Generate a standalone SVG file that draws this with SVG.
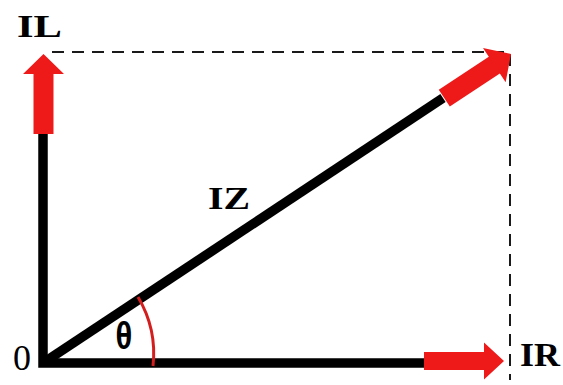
<svg xmlns="http://www.w3.org/2000/svg" width="563" height="385" viewBox="0 0 563 385">
<style>
.axis{stroke:#000;stroke-width:9.5;fill:none;stroke-linejoin:miter}
.dash{stroke:#1a1a1a;stroke-width:2;stroke-dasharray:12 8;fill:none}
.arr{fill:#ee1a1a}
.lbl{font-family:"Liberation Serif","Times New Roman",serif;font-weight:bold;fill:#000}
</style>
<defs>
<path id="arrow" d="M0 0 L-20 -20.5 L-20 -10 L-80 -10 L-80 10 L-20 10 L-20 20.5 Z"/>
</defs>
<rect width="563" height="385" fill="#fff"/>
<g id="guides">
<path class="dash" d="M52 52 H510 V380"/>
</g>
<g id="connectors">
<path class="axis" d="M43 132 V363 H426"/>
<line class="axis" x1="43" y1="363" x2="443" y2="98"/>
</g>
<g id="arrow-IL"><use href="#arrow" class="arr" transform="translate(43.5 54) rotate(-90)"/></g>
<g id="arrow-IR"><use href="#arrow" class="arr" transform="translate(504 361) scale(1 0.9)"/></g>
<g id="arrow-IZ"><use href="#arrow" class="arr" transform="translate(511 54) rotate(-33.5)"/></g>
<g id="angle">
<path d="M153 366 A111 111 0 0 0 138 297" fill="none" stroke="#d41e1e" stroke-width="3"/>
<text transform="translate(124 349) scale(1 1.25)" text-anchor="middle" font-family="Liberation Sans, Arial, sans-serif" font-size="31" font-weight="bold" fill="#000">θ</text>
</g>
<g id="labels">
<text class="lbl" x="17" y="37" font-size="31" textLength="45" lengthAdjust="spacingAndGlyphs">IL</text>
<text class="lbl" x="208" y="209" font-size="32" textLength="42" lengthAdjust="spacingAndGlyphs">IZ</text>
<text class="lbl" x="520" y="366" font-size="33" textLength="40" lengthAdjust="spacingAndGlyphs">IR</text>
<text x="13" y="370" font-family="Liberation Serif, 'Times New Roman', serif" font-size="36" fill="#000">0</text>
</g>
</svg>
